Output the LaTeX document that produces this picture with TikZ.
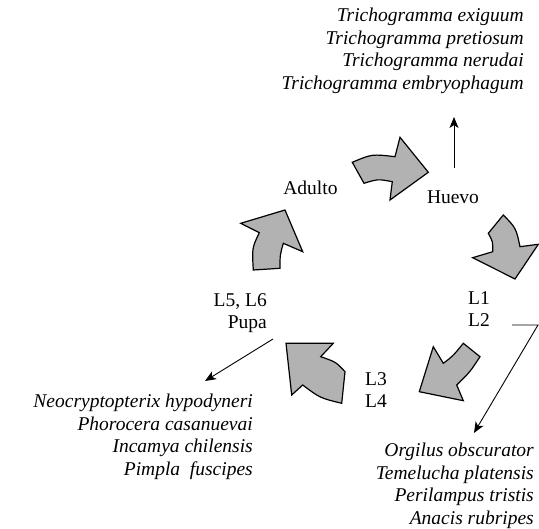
\documentclass[tikz,border=0pt]{standalone}
\usepackage{fontspec}
\setmainfont{Liberation Serif}
\usetikzlibrary{arrows.meta}
\begin{document}
\begin{tikzpicture}[x=1pt,y=-1pt,
  lbl/.style={font=\fontsize{19.5}{22.5}\selectfont, inner sep=0pt},
  spec/.style={font=\fontsize{19.5}{22.5}\selectfont\itshape, inner sep=0pt, align=right},
  bigarrow/.style={draw=black, fill=gray!60, line width=1.2pt, line join=miter},
  conn/.style={line width=0.9pt, -{Stealth[length=11pt,width=9pt,inset=3pt]}}]
\useasboundingbox (0,0) rectangle (539,529);

% labels
\node[lbl] (huevo) at (453,197) {Huevo};
\node[lbl] (adulto) at (310.5,188) {Adulto};
\node[lbl, align=left, anchor=west] (l12) at (468,309) {L1\\L2};
\node[lbl, align=left, anchor=west] (l34) at (365,390) {L3\\L4};
\node[lbl, align=right, anchor=east] (pupa) at (267,313) {L5, L6\\Pupa};

% species lists
\node[spec, anchor=east] (trich) at (524,51) {Trichogramma exiguum\\Trichogramma pretiosum\\Trichogramma nerudai\\Trichogramma embryophagum};
\node[spec, anchor=east] (neo) at (253,437) {Neocryptopterix hypodyneri\\Phorocera casanuevai\\Incamya chilensis\\Pimpla\ \ fuscipes};
\node[spec, anchor=east] (org) at (534,486) {Orgilus obscurator\\Temelucha platensis\\Perilampus tristis\\Anacis rubripes};

% connector end points
\coordinate (hs) at (454,168);
\coordinate (he) at (454,117);
\coordinate (ls) at (512,325);
\coordinate (lc) at (538,325);
\coordinate (le) at (474,433);
\coordinate (ps) at (273,339);
\coordinate (pe) at (205,381);

\draw[conn] (hs) -- (he);
\draw[conn] (ls) -- (lc) -- (le);
\draw[conn] (ps) -- (pe);

% cycle block arrows
\draw[bigarrow] (352.3,162.3) .. controls (372,154) .. (395,156.7) -- (400,137.3) -- (428.3,172.3) -- (390,200) -- (392.3,181.7) .. controls (378,179) .. (364,183.3) -- cycle;
\draw[bigarrow] (488.3,233.3) -- (503.3,215) .. controls (516,228) .. (520,246.7) -- (538.3,244.3) -- (515,279) -- (472.7,257.7) -- (492.7,251.7) .. controls (493,242) .. (488.3,233.3) -- cycle;
\draw[bigarrow] (463.3,343.3) -- (480,356.7) .. controls (470,372) .. (456.7,385) -- (463.3,400.7) -- (419.3,391.7) -- (433.3,346.7) -- (443.3,363.3) .. controls (453,356) .. (463.3,343.3) -- cycle;
\draw[bigarrow] (286,343.3) -- (333.3,343.3) -- (320.7,356.7) .. controls (336,362) .. (345,371.7) -- (341.7,403.3) .. controls (320,398) .. (302.7,385) -- (291.7,395) -- cycle;
\draw[bigarrow] (253.3,270) -- (280,268.3) .. controls (280,255) .. (283.3,243.3) -- (302.7,251.7) -- (285,210) -- (240.7,223.3) -- (259.3,232.7) .. controls (252,248) .. (253.3,270) -- cycle;
\end{tikzpicture}
\end{document}
